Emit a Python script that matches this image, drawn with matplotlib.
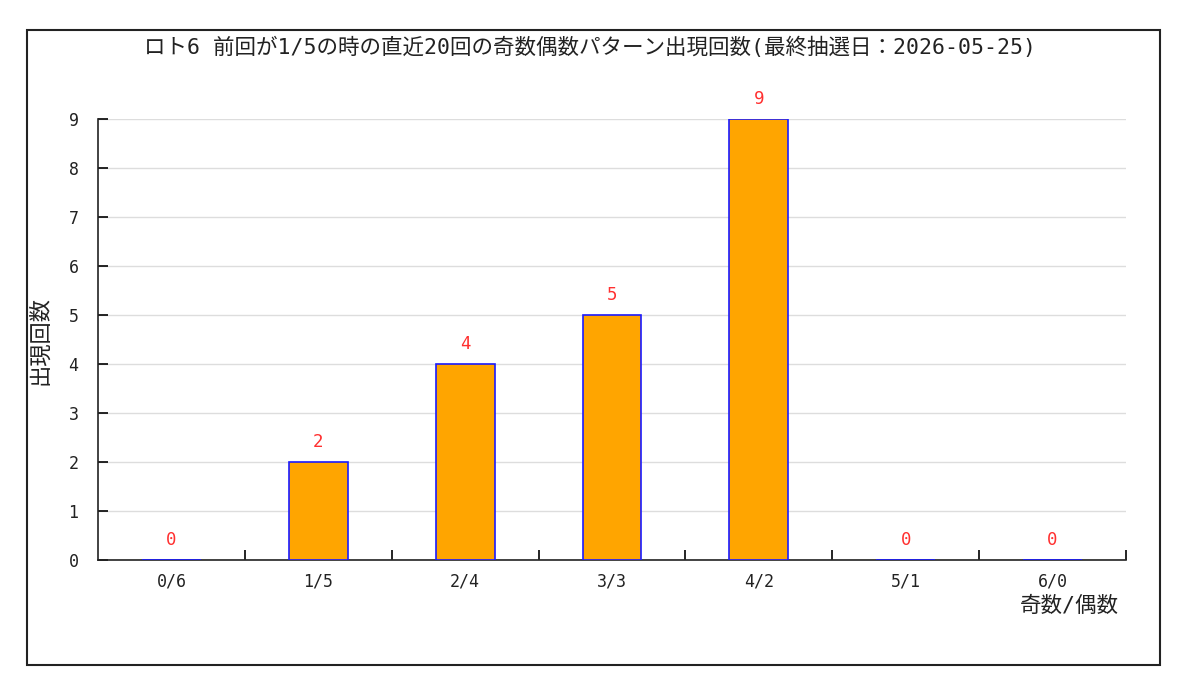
import matplotlib
matplotlib.use("Agg")
import matplotlib.pyplot as plt
from matplotlib.patches import Rectangle

plt.rcParams['font.family'] = ['Noto Sans CJK JP', 'DejaVu Sans']

categories = ['0/6', '1/5', '2/4', '3/3', '4/2', '5/1', '6/0']
counts = [0, 2, 4, 5, 9, 0, 0]
title = 'ロト6 前回が1/5の時の直近20回の奇数偶数パターン出現回数(最終抽選日：2026-05-25)'
ylabel = '出現回数'
xlabel = '奇数/偶数'

MONO = ['DejaVu Sans Mono', 'Noto Sans CJK JP']
TXT = '#222222'

fig = plt.figure(figsize=(12, 6.86), dpi=100)
fig.patch.set_facecolor('white')
# outer frame
fig.patches.append(Rectangle((27/1200, 1-665/686), (1160-27)/1200, (665-30)/686,
                             transform=fig.transFigure, fill=False, edgecolor='#222222',
                             linewidth=1.5, zorder=0))

ax = fig.add_axes([98/1200, 1-560/686, (1126-98)/1200, (560-119)/686])
x = list(range(len(categories)))
ax.bar(x, counts, width=0.4, color='#FFA500', edgecolor='#1a1aff', linewidth=1.2, zorder=3)
for xi, c in zip(x, counts):
    ax.text(xi, c + 0.22, str(c), ha='center', va='bottom', color='#ff3030',
            fontsize=12.5, family=MONO)

ax.set_xlim(-0.5, len(categories) - 0.5)
ax.set_ylim(0, 9)
ax.set_yticks(range(0, 10))
ax.set_yticklabels([str(i) for i in range(10)], fontsize=12, family=MONO, color=TXT)
ax.yaxis.grid(True, color='#dddddd', linewidth=1, zorder=0)
ax.set_axisbelow(True)
ax.tick_params(axis='y', direction='in', length=7, width=1.2, pad=14)

ax.set_xticks(x)
ax.set_xticklabels(categories, fontsize=12, family=MONO, color=TXT)
ax.tick_params(axis='x', which='major', length=0, pad=9)
ax.set_xticks([i + 0.5 for i in x], minor=True)
ax.tick_params(axis='x', which='minor', direction='in', length=7, width=1.2)

for s in ['top', 'right']:
    ax.spines[s].set_visible(False)
for s in ['left', 'bottom']:
    ax.spines[s].set_linewidth(1.2)
    ax.spines[s].set_color('#222222')

fig.text(590/1200, 1-47/686, title, ha='center', va='center', fontsize=15.5, family=MONO, color=TXT)
fig.text(40/1200, 1-340/686, ylabel, ha='center', va='center', rotation=90, fontsize=16, color=TXT)
fig.text(1069/1200, 1-606/686, xlabel, ha='center', va='center', fontsize=15.5, family=MONO, color=TXT)

fig.savefig('out.png', dpi=100, facecolor='white')
